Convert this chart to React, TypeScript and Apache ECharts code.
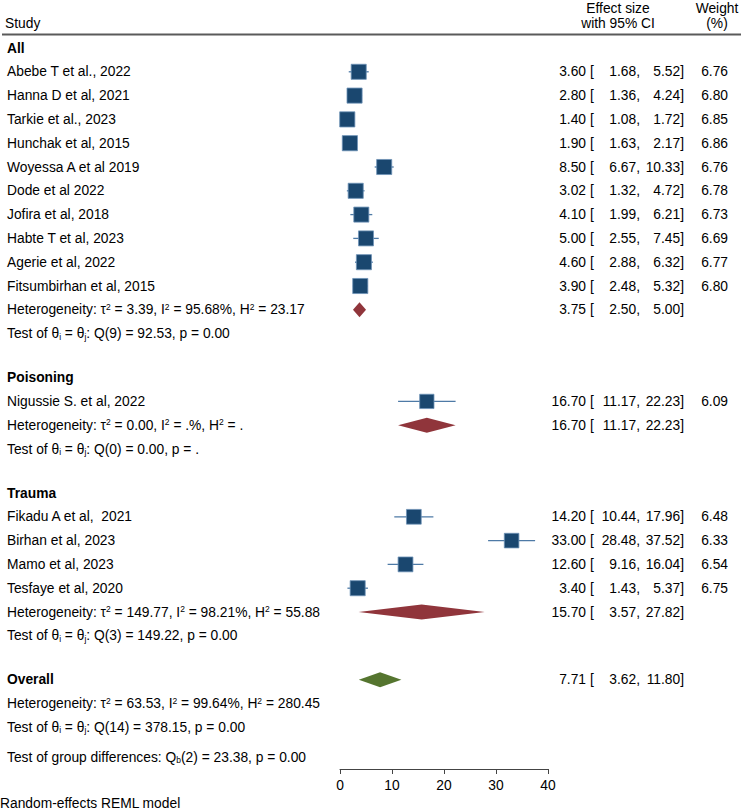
import React, { useEffect, useRef } from "react";
import * as echarts from "echarts";

type Study = [string, number, number, number, number]; // name, effect, lower, upper, weight

const allStudies: Study[] = [
  ["Abebe T et al., 2022", 3.6, 1.68, 5.52, 6.76],
  ["Hanna D et al, 2021", 2.8, 1.36, 4.24, 6.8],
  ["Tarkie et al., 2023", 1.4, 1.08, 1.72, 6.85],
  ["Hunchak et al, 2015", 1.9, 1.63, 2.17, 6.86],
  ["Woyessa A et al 2019", 8.5, 6.67, 10.33, 6.76],
  ["Dode et al 2022", 3.02, 1.32, 4.72, 6.78],
  ["Jofira et al, 2018", 4.1, 1.99, 6.21, 6.73],
  ["Habte T et al, 2023", 5.0, 2.55, 7.45, 6.69],
  ["Agerie et al, 2022", 4.6, 2.88, 6.32, 6.77],
  ["Fitsumbirhan et al, 2015", 3.9, 2.48, 5.32, 6.8],
];
const poisoningStudies: Study[] = [["Nigussie S. et al, 2022", 16.7, 11.17, 22.23, 6.09]];
const traumaStudies: Study[] = [
  ["Fikadu A et al,  2021", 14.2, 10.44, 17.96, 6.48],
  ["Birhan et al, 2023", 33.0, 28.48, 37.52, 6.33],
  ["Mamo et al, 2023", 12.6, 9.16, 16.04, 6.54],
  ["Tesfaye et al, 2020", 3.4, 1.43, 5.37, 6.75],
];

const groupNames = ["All", "Poisoning", "Trauma"];
const groupStudies = [allStudies, poisoningStudies, traumaStudies];
const groupPooled: [number, number, number][] = [
  [3.75, 2.5, 5.0],
  [16.7, 11.17, 22.23],
  [15.7, 3.57, 27.82],
];
const groupTau2 = ["3.39", "0.00", "149.77"];
const groupI2 = ["95.68%", ".%", "98.21%"];
const groupH2 = ["23.17", ".", "55.88"];
const groupQdf = ["9", "0", "3"];
const groupQ = ["92.53", "0.00", "149.22"];
const groupP = ["0.00", ".", "0.00"];

const overallPooled: [number, number, number] = [7.71, 3.62, 11.8];
const overallTau2 = "63.53";
const overallI2 = "99.64%";
const overallH2 = "280.45";
const overallQdf = "14";
const overallQ = "378.15";
const overallP = "0.00";
const groupDiffDf = "2";
const groupDiffQ = "23.38";
const groupDiffP = "0.00";

const xTicks = [0, 10, 20, 30, 40];

const FF = '"Liberation Sans", Arial, Helvetica, sans-serif';
const FS = 13.8;

export default function App() {
  const ref = useRef<HTMLDivElement>(null);
  useEffect(() => {
    if (!ref.current) return;
    const chart = echarts.init(ref.current, null, { renderer: "svg" });

    const STEP = 23.8;
    const GAP = 44;
    const texts: any[] = [];
    const marks: number[][] = [];

    const rich = {
      sup: { fontSize: 8.5, fontFamily: FF, verticalAlign: "top", lineHeight: 8, fill: "#000" },
      sub: { fontSize: 8.5, fontFamily: FF, verticalAlign: "bottom", lineHeight: 8, fill: "#000" },
    };
    const txt = (x: number, y: number, text: string, align = "left", bold = false) => {
      texts.push({
        type: "text",
        x,
        y,
        silent: true,
        style: {
          text,
          fill: "#000",
          fontFamily: FF,
          fontSize: FS,
          fontWeight: bold ? "bold" : "normal",
          align,
          verticalAlign: "middle",
          lineHeight: 15,
          rich,
        },
      });
    };
    const f2 = (v: number) => v.toFixed(2);
    const esCols = (y: number, es: number, lo: number, hi: number, w?: number) => {
      txt(586, y, f2(es), "right");
      txt(590, y, "[", "left");
      txt(640, y, f2(lo) + ",", "right");
      txt(684, y, f2(hi) + "]", "right");
      if (w !== undefined) txt(728, y, f2(w), "right");
    };
    const hetText = (t: string, i2: string, h2: string) =>
      `Heterogeneity: τ{sup|2} = ${t}, I{sup|2} = ${i2}, H{sup|2} = ${h2}`;
    const testText = (df: string, q: string, p: string) =>
      `Test of θ{sub|i} = θ{sub|j}: Q(${df}) = ${q}, p = ${p}`;

    const LX = 7;
    let y = 48;
    groupNames.forEach((g, gi) => {
      txt(LX, y, g, "left", true);
      groupStudies[gi].forEach((s) => {
        y += STEP;
        txt(LX, y, s[0]);
        esCols(y, s[1], s[2], s[3], s[4]);
        marks.push([s[1], s[2], s[3], y, s[4], 0]);
      });
      y += STEP;
      txt(LX, y, hetText(groupTau2[gi], groupI2[gi], groupH2[gi]));
      const p = groupPooled[gi];
      esCols(y, p[0], p[1], p[2]);
      marks.push([p[0], p[1], p[2], y, 0, 1]);
      y += STEP;
      txt(LX, y, testText(groupQdf[gi], groupQ[gi], groupP[gi]));
      y += GAP;
    });
    txt(LX, y, "Overall", "left", true);
    esCols(y, overallPooled[0], overallPooled[1], overallPooled[2]);
    marks.push([overallPooled[0], overallPooled[1], overallPooled[2], y, 0, 2]);
    y += STEP;
    txt(LX, y, hetText(overallTau2, overallI2, overallH2));
    y += STEP;
    txt(LX, y, testText(overallQdf, overallQ, overallP));
    y += 29.6;
    txt(LX, y, `Test of group differences: Q{sub|b}(${groupDiffDf}) = ${groupDiffQ}, p = ${groupDiffP}`);

    // headers
    txt(5, 23, "Study");
    txt(618, 8, "Effect size", "center");
    txt(618, 23, "with 95% CI", "center");
    txt(717, 8, "Weight", "center");
    txt(717, 23, "(%)", "center");
    txt(0, 803, "Random-effects REML model");

    const graphics = [
      {
        type: "line",
        silent: true,
        shape: { x1: 2, y1: 34.5, x2: 741, y2: 34.5 },
        style: { stroke: "#5a5a5a", lineWidth: 2 },
      },
      ...texts,
    ];

    chart.setOption({
      animation: false,
      grid: { left: 340, top: 0, width: 208, height: 769 },
      xAxis: {
        type: "value",
        position: "bottom",
        min: xTicks[0],
        max: xTicks[xTicks.length - 1],
        interval: 10,
        axisLine: { show: true, onZero: false, lineStyle: { color: "#444", width: 1 } },
        axisTick: { show: true, length: 5, lineStyle: { color: "#444" } },
        axisLabel: { color: "#000", fontSize: FS, fontFamily: FF, margin: 9 },
        splitLine: { show: false },
      },
      yAxis: { type: "value", min: 0, max: 769, inverse: true, show: false },
      series: [
        {
          type: "custom",
          clip: false,
          dimensions: ["es", "lo", "hi", "y", "w", "kind"],
          encode: { x: ["es", "lo", "hi"], y: "y" },
          data: marks,
          renderItem: (params: any, api: any) => {
            const es = api.value(0);
            const lo = api.value(1);
            const hi = api.value(2);
            const yy = api.value(3);
            const w = api.value(4);
            const kind = api.value(5);
            const c = api.coord([es, yy]);
            const l = api.coord([lo, yy]);
            const h = api.coord([hi, yy]);
            if (kind === 0) {
              const s = 5.8 * Math.sqrt(w);
              return {
                type: "group",
                children: [
                  {
                    type: "line",
                    shape: { x1: l[0], y1: c[1], x2: h[0], y2: c[1] },
                    style: { stroke: "#4e7aa6", lineWidth: 1.3 },
                  },
                  {
                    type: "rect",
                    shape: { x: c[0] - s / 2, y: c[1] - s / 2, width: s, height: s },
                    style: { fill: "#1a476f", stroke: "#6f93b8", lineWidth: 0.8 },
                  },
                ],
              };
            }
            const hh = 7.5;
            return {
              type: "polygon",
              shape: {
                points: [
                  [l[0], c[1]],
                  [c[0], c[1] - hh],
                  [h[0], c[1]],
                  [c[0], c[1] + hh],
                ],
              },
              style: { fill: kind === 1 ? "#90353b" : "#55752f" },
            };
          },
        },
      ],
      graphic: graphics,
    });
    return () => chart.dispose();
  }, []);
  return (
    <div
      ref={ref}
      style={{ position: "fixed", left: 0, top: 0, width: 744, height: 812, background: "#fff" }}
    />
  );
}
